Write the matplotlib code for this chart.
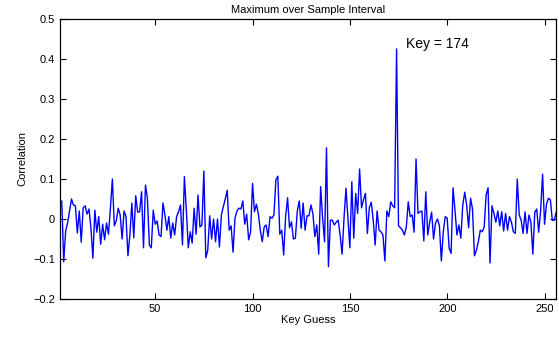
import matplotlib
matplotlib.use('Agg')
import matplotlib.pyplot as plt
import numpy as np

plt.rcParams['font.family'] = ['Liberation Sans', 'DejaVu Sans']
plt.rcParams['axes.unicode_minus'] = True

# correlation per key guess (1..256)
corr_1_44 = [0.043, 0.045, -0.107, -0.03, -0.01, 0.02, 0.05, 0.035, 0.033, -0.035,
             0.02, -0.058, 0.028, 0.033, 0.012, 0.025, -0.023, -0.098, 0.022, -0.033,
             0.006, -0.063, -0.013, -0.052, -0.01, -0.038, 0.027, 0.1, -0.017, -0.005,
             0.027, 0.01, -0.05, 0.02, 0.006, -0.092, -0.04, 0.04, -0.047, 0.058,
             0.017, 0.018, 0.068, -0.072]
corr_45_87 = [0.085, 0.052, -0.065, -0.072, 0.022, -0.013, -0.005, -0.04, -0.044, 0.04,
              0.01, -0.028, 0.006, -0.048, -0.01, -0.04, 0.006, 0.018, 0.035, -0.065,
              0.106, 0.022, -0.072, -0.032, -0.06, 0.027, -0.038, 0.06, -0.02, -0.015,
              0.12, -0.097, -0.078, 0.008, -0.05, 0.0, -0.057, 0.0, -0.07, 0.01,
              0.031, 0.05, 0.072]
corr_88_130 = [-0.028, -0.017, -0.083, 0.003, 0.02, 0.027, 0.025, 0.045, -0.013, 0.012,
               -0.052, -0.033, 0.089, 0.018, 0.037, 0.012, -0.028, -0.057, -0.02, -0.015,
               -0.044, 0.006, 0.002, 0.01, 0.098, 0.107, -0.038, -0.028, -0.09, 0.006,
               0.053, -0.022, -0.007, -0.05, -0.048, 0.02, 0.045, -0.023, 0.04, -0.028,
               0.008, 0.008, 0.035]
corr_131_174 = [0.014, -0.044, -0.015, -0.088, 0.081, 0.002, -0.057, 0.178, -0.119, -0.003,
                -0.003, -0.015, -0.008, -0.003, -0.04, -0.088, 0.002, 0.077, 0.002, -0.072,
                0.093, -0.048, 0.064, 0.014, 0.125, 0.028, 0.048, 0.064, -0.036, 0.028,
                0.042, -0.003, -0.065, 0.02, -0.028, -0.032, -0.04, -0.105, 0.02, 0.006,
                0.043, 0.033, 0.028, 0.425]
corr_175_216 = [-0.017, -0.022, -0.028, -0.04, -0.02, 0.043, 0.006, 0.01, -0.033, 0.15,
                0.014, 0.018, 0.02, -0.055, 0.068, -0.04, -0.008, 0.017, -0.05, -0.01,
                0.0, -0.017, -0.105, -0.032, 0.006, 0.002, -0.073, -0.086, 0.078, 0.022,
                -0.04, -0.015, -0.048, 0.035, 0.067, 0.035, -0.022, 0.052, 0.025, -0.092,
                -0.078, -0.057]
corr_217_256 = [-0.028, -0.032, -0.02, 0.06, 0.078, -0.11, 0.033, 0.014, -0.008, 0.02,
                -0.017, 0.018, -0.03, 0.014, -0.028, 0.006, -0.008, -0.032, -0.036, 0.1,
                0.01, -0.003, -0.036, 0.018, -0.036, 0.01, -0.008, -0.088, 0.017, 0.025,
                -0.033, 0.02, 0.112, -0.013, 0.037, 0.052, 0.048, -0.003, -0.003, 0.017]

corr = np.array(corr_1_44 + corr_45_87 + corr_88_130 + corr_131_174
                + corr_175_216 + corr_217_256)
key_guess = np.arange(1, len(corr) + 1)
true_key = 174

x_ticks = [50, 100, 150, 200, 250]
y_ticks = [-0.2, -0.1, 0, 0.1, 0.2, 0.3, 0.4, 0.5]
y_labels = ['\u22120.2', '\u22120.1', '0', '0.1', '0.2', '0.3', '0.4', '0.5']

fig = plt.figure(figsize=(5.59, 3.39), dpi=100)
ax = fig.add_axes([0.107, 0.118, 0.888, 0.826])
ax.plot(key_guess, corr, color='#0000ff', linewidth=1.0)

ax.set_xlim(1, 256)
ax.set_ylim(-0.2, 0.5)
ax.set_xticks(x_ticks)
ax.set_yticks(y_ticks)
ax.set_yticklabels(y_labels)
ax.tick_params(direction='in', top=True, right=True, labelsize=8, length=4, width=0.8)
for s in ax.spines.values():
    s.set_linewidth(0.9)

ax.set_title('Maximum over Sample Interval', fontsize=8, pad=4)
ax.set_xlabel('Key Guess', fontsize=8, labelpad=1)
ax.set_ylabel('Correlation', fontsize=8, labelpad=4)
ax.text(true_key + 5, corr[true_key - 1] + 0.012, 'Key = %d' % true_key,
        fontsize=10, va='center', ha='left')

fig.savefig('out.png', dpi=100)
